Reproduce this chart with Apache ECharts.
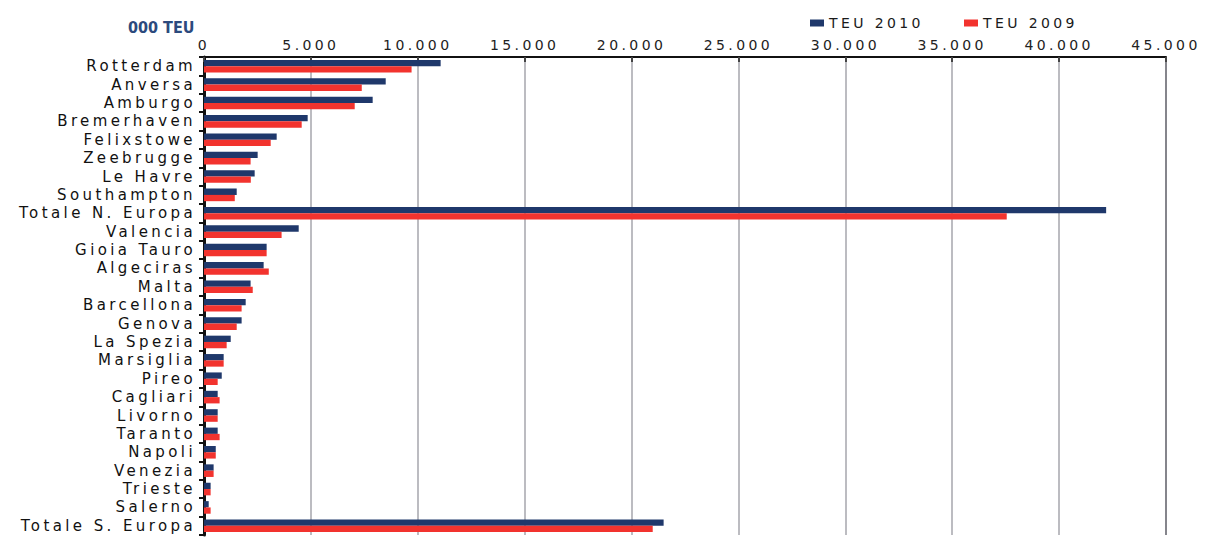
<!DOCTYPE html>
<html>
<head>
<meta charset="utf-8">
<script src="https://cdn.jsdelivr.net/npm/echarts@6/dist/echarts.min.js"></script>
<style>
  html, body { margin: 0; padding: 0; background: #fff; }
  #chart { width: 1219px; height: 545px; }
  /* wide, airy lettering for axis labels and legend */
  #chart svg text { letter-spacing: 3.4px; }
  #chart svg text[style*="Narrow"] { letter-spacing: 0; }
</style>
</head>
<body>
<div id="chart"></div>
<script>
// Container ports, thousand TEU
const ports = [
  'Rotterdam', 'Anversa', 'Amburgo', 'Bremerhaven', 'Felixstowe', 'Zeebrugge',
  'Le Havre', 'Southampton', 'Totale N. Europa', 'Valencia', 'Gioia Tauro',
  'Algeciras', 'Malta', 'Barcellona', 'Genova', 'La Spezia', 'Marsiglia',
  'Pireo', 'Cagliari', 'Livorno', 'Taranto', 'Napoli', 'Venezia', 'Trieste',
  'Salerno', 'Totale S. Europa'
];
const teu2010 = [
  11070, 8500, 7890, 4850, 3400, 2510, 2370, 1530, 42200, 4430, 2930,
  2790, 2180, 1950, 1760, 1250, 920, 830, 640, 640, 640, 550, 450, 310,
  220, 21500
];
const teu2009 = [
  9710, 7380, 7050, 4570, 3120, 2180, 2190, 1440, 37550, 3630, 2930,
  3030, 2280, 1760, 1530, 1060, 920, 640, 730, 640, 730, 550, 450, 310,
  310, 20990
];
const seriesNames = ['TEU 2010', 'TEU 2009'];
const unitLabel = '000 TEU';

const BLUE = '#1f386b';
const RED = '#f2332e';
const LABEL_FONT = "'DejaVu Sans', Verdana, sans-serif";

const chart = echarts.init(document.getElementById('chart'), null, { renderer: 'svg' });

const gridColors = ['#bcbcc1', '#bcbcc1', '#bcbcc1', '#bcbcc1', '#bcbcc1',
                    '#bcbcc1', '#bcbcc1', '#bcbcc1', '#bcbcc1', '#85858c'];

const legendText = { fontFamily: LABEL_FONT, fontSize: 14, color: '#1a1a1a' };

chart.setOption({
  animation: false,
  backgroundColor: '#ffffff',
  title: {
    text: unitLabel,
    left: 123,
    top: 14,
    textStyle: {
      fontFamily: "'Liberation Sans Narrow', 'DejaVu Sans Condensed', 'Open Sans', sans-serif",
      fontWeight: 'bold',
      fontSize: 16,
      color: '#2c4a7d'
    }
  },
  legend: [
    {
      data: [seriesNames[0]],
      left: 805, top: 11,
      itemWidth: 14, itemHeight: 7, itemGap: 5,
      icon: 'rect',
      textStyle: legendText
    },
    {
      data: [seriesNames[1]],
      left: 959, top: 11,
      itemWidth: 14, itemHeight: 7, itemGap: 5,
      icon: 'rect',
      textStyle: legendText
    }
  ],
  grid: { left: 204, right: 53, top: 57, bottom: 10, containLabel: false },
  xAxis: {
    type: 'value',
    position: 'top',
    min: 0,
    max: 45000,
    interval: 5000,
    axisLine: { show: true, lineStyle: { color: '#111', width: 2 } },
    axisTick: { show: true, inside: true, length: 5, lineStyle: { color: '#444', width: 2 } },
    axisLabel: {
      margin: 5,
      fontFamily: LABEL_FONT,
      fontSize: 14,
      color: '#222',
      formatter: v => v === 0 ? '0' : (v / 1000) + '.000'
    },
    splitLine: { show: true, lineStyle: { color: gridColors, width: 2 } }
  },
  yAxis: {
    type: 'category',
    inverse: true,
    data: ports,
    axisLine: { show: true, lineStyle: { color: '#111', width: 3 } },
    axisTick: { show: true, length: 5, lineStyle: { color: '#111', width: 2 } },
    axisLabel: {
      margin: 8,
      fontFamily: LABEL_FONT,
      fontSize: 15,
      color: '#111',
      interval: 0
    },
    splitLine: { show: false }
  },
  series: [
    {
      name: seriesNames[0],
      type: 'bar',
      data: teu2010,
      barWidth: 6.3,
      barGap: '0%',
      itemStyle: { color: BLUE },
      emphasis: { disabled: true }
    },
    {
      name: seriesNames[1],
      type: 'bar',
      data: teu2009,
      barWidth: 6.3,
      barGap: '0%',
      itemStyle: { color: RED },
      emphasis: { disabled: true }
    }
  ]
});
</script>
</body>
</html>
